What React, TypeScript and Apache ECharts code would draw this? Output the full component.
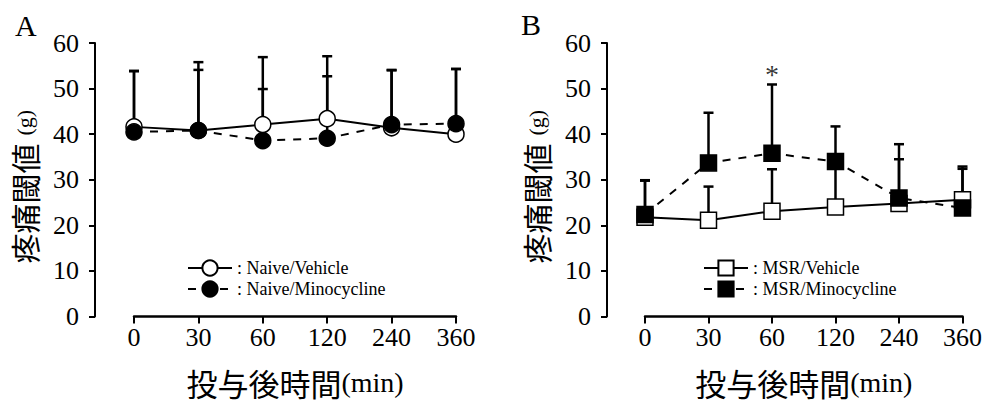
import React, { useEffect, useRef } from "react";
import * as echarts from "echarts";

const categories = ["0", "30", "60", "120", "240", "360"];

// Panel A
const naiveVehicle = [41.6, 40.8, 42.1, 43.4, 41.4, 40.0];
const naiveVehicleSD = [12.3, 15.0, 14.8, 13.7, 12.6, 14.3];
const naiveMino = [40.5, 40.8, 38.6, 39.1, 42.1, 42.3];
const naiveMinoSD = [13.3, 13.3, 11.3, 13.6, 12.0, 12.0];

// Panel B
const msrVehicle = [21.8, 21.1, 23.1, 24.0, 24.8, 25.6];
const msrVehicleSD = [8.0, 7.4, 9.2, 9.0, 9.7, 6.8];
const msrMino = [22.4, 33.7, 35.8, 34.0, 26.0, 23.8];
const msrMinoSD = [7.5, 11.0, 15.1, 7.7, 11.8, 9.1];

const significance = [["60", 53]];

const SERIF = "Liberation Serif";
const CJK = "Noto Sans CJK JP";

function errorSeries(name: string, idx: number, mean: number[], sd: number[]) {
  return {
    type: "custom",
    name,
    xAxisIndex: idx,
    yAxisIndex: idx,
    z: 1,
    silent: true,
    renderItem: (params: any, api: any) => {
      const x = api.value(0);
      const m = api.value(1);
      const s = api.value(2);
      const p0 = api.coord([x, m]);
      const p1 = api.coord([x, m + s]);
      const st = { stroke: "#000", lineWidth: 2.5 };
      return {
        type: "group",
        children: [
          { type: "line", shape: { x1: p0[0], y1: p0[1], x2: p1[0], y2: p1[1] }, style: st },
          { type: "line", shape: { x1: p1[0] - 5, y1: p1[1], x2: p1[0] + 5, y2: p1[1] }, style: st },
        ],
      };
    },
    data: mean.map((v, i) => [i, v, sd[i]]),
  };
}

function lineSeries(name: string, idx: number, data: number[], symbol: string, filled: boolean, dashed: boolean) {
  return {
    type: "line",
    name,
    xAxisIndex: idx,
    yAxisIndex: idx,
    z: filled ? 4 : 3,
    data,
    symbol,
    symbolSize: 16,
    lineStyle: { color: "#000", width: 2, type: dashed ? [8, 8] : "solid" },
    itemStyle: { color: filled ? "#000" : "#fff", borderColor: "#000", borderWidth: 1.5 },
  };
}

function yAxisCfg(idx: number, offset: number) {
  return {
    type: "value",
    gridIndex: idx,
    min: 0,
    max: 60,
    interval: 10,
    offset,
    axisLine: { show: true, lineStyle: { color: "#000", width: 2 } },
    axisTick: { show: true, length: 6, lineStyle: { color: "#000", width: 2 } },
    splitLine: { show: false },
    axisLabel: { color: "#000", fontFamily: SERIF, fontSize: 26, margin: 16 },
    name: "{a|疼痛閾値}{b|(g)}",
    nameLocation: "middle",
    nameRotate: 90,
    nameGap: 56,
    nameTextStyle: {
      rich: {
        a: { fontFamily: CJK, fontSize: 30, color: "#000" },
        b: { fontFamily: SERIF, fontSize: 22, color: "#000", padding: [0, 14, 0, 8] },
      },
    },
  };
}

function xAxisCfg(idx: number) {
  return {
    type: "category",
    gridIndex: idx,
    data: categories,
    boundaryGap: false,
    axisLine: { show: true, lineStyle: { color: "#000", width: 2.5 } },
    axisTick: { show: true, length: 7, lineStyle: { color: "#000", width: 2 } },
    splitLine: { show: false },
    axisLabel: { color: "#000", fontFamily: SERIF, fontSize: 26, margin: 8 },
    name: "{a|投与後時間}{b|(min)}",
    nameLocation: "middle",
    nameGap: 51,
    nameTextStyle: {
      rich: {
        a: { fontFamily: CJK, fontSize: 31, color: "#000", lineHeight: 30 },
        b: { fontFamily: SERIF, fontSize: 28, color: "#000", lineHeight: 30 },
      },
    },
  };
}

export default function App() {
  const ref = useRef<HTMLDivElement>(null);
  useEffect(() => {
    document.body.style.margin = "0";
    if (!ref.current) return;
    const chart = echarts.init(ref.current, null, { renderer: "svg" });
    chart.setOption({
      animation: false,
      backgroundColor: "#fff",
      textStyle: { fontFamily: SERIF },
      grid: [
        { left: 134, width: 322, top: 43, height: 281 },
        { left: 645, width: 323, top: 43, height: 280 },
      ],
      xAxis: [xAxisCfg(0), xAxisCfg(1)],
      yAxis: [yAxisCfg(0, 39), yAxisCfg(1, 38)],
      legend: [
        {
          data: ["Naive/Vehicle", "Naive/Minocycline"],
          orient: "vertical",
          left: 182,
          top: 254,
          itemWidth: 44,
          itemHeight: 19,
          itemGap: 3,
          formatter: ": {name}",
          textStyle: { fontFamily: SERIF, fontSize: 18, color: "#000" },
        },
        {
          data: ["MSR/Vehicle", "MSR/Minocycline"],
          orient: "vertical",
          left: 698,
          top: 254,
          itemWidth: 44,
          itemHeight: 19,
          itemGap: 3,
          formatter: ": {name}",
          textStyle: { fontFamily: SERIF, fontSize: 18, color: "#000" },
        },
      ],
      graphic: [
        { type: "text", left: 15, top: 10, style: { text: "A", font: "30px Liberation Serif", fill: "#000" } },
        { type: "text", left: 521, top: 9, style: { text: "B", font: "30px Liberation Serif", fill: "#000" } },
      ],
      series: [
        errorSeries("errA1", 0, naiveVehicle, naiveVehicleSD),
        errorSeries("errA2", 0, naiveMino, naiveMinoSD),
        lineSeries("Naive/Vehicle", 0, naiveVehicle, "circle", false, false),
        lineSeries("Naive/Minocycline", 0, naiveMino, "circle", true, true),
        errorSeries("errB1", 1, msrVehicle, msrVehicleSD),
        errorSeries("errB2", 1, msrMino, msrMinoSD),
        lineSeries("MSR/Vehicle", 1, msrVehicle, "rect", false, false),
        lineSeries("MSR/Minocycline", 1, msrMino, "rect", true, true),
        {
          type: "scatter",
          name: "sig",
          xAxisIndex: 1,
          yAxisIndex: 1,
          data: significance,
          symbolSize: 1,
          itemStyle: { color: "rgba(0,0,0,0)" },
          label: {
            show: true,
            position: "inside",
            formatter: "*",
            fontFamily: SERIF,
            fontSize: 28,
            color: "#000",
            textBorderWidth: 0,
          },
        },
      ],
    });
    return () => chart.dispose();
  }, []);
  return <div ref={ref} style={{ width: 985, height: 403 }} />;
}
